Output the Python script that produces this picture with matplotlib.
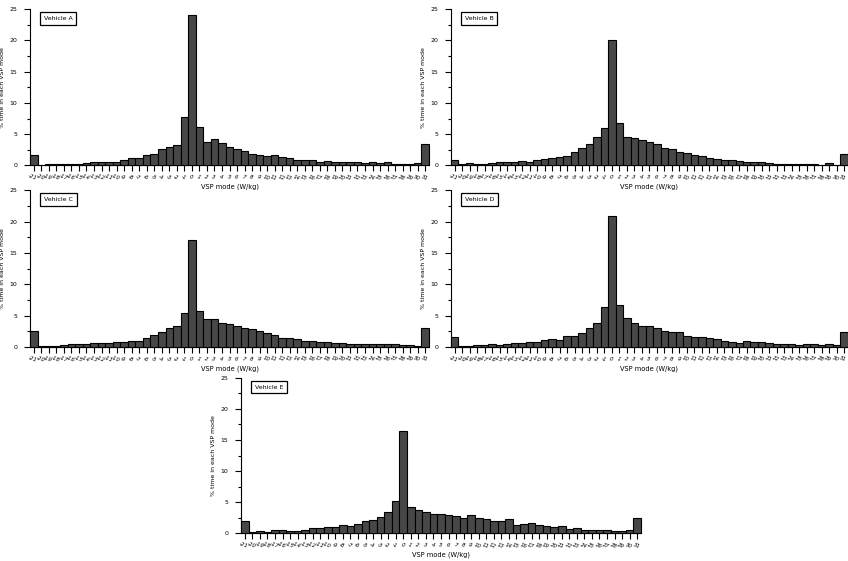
import numpy as np
import matplotlib
matplotlib.use("Agg")
import matplotlib.pyplot as plt
from matplotlib.ticker import MultipleLocator

# -----------------------------
# Data: % time in each VSP mode (-21 .. 31 W/kg)
# -----------------------------
vsp_modes = list(range(-21, 32))

vehicle_a = [1.6, 0.1, 0.2, 0.2, 0.2, 0.3, 0.3, 0.4, 0.5, 0.5, 0.6, 0.6, 0.9, 1.2, 1.2, 1.6, 1.9, 2.7, 2.9, 3.3,
             7.7, 24.0, 6.1, 3.8, 4.2, 3.6, 3.0, 2.6, 2.3, 1.9, 1.7, 1.5, 1.6, 1.4, 1.2, 0.9, 0.8, 0.9, 0.5, 0.7,
             0.6, 0.5, 0.5, 0.5, 0.4, 0.5, 0.4, 0.5, 0.3, 0.3, 0.3, 0.4, 3.4]
vehicle_b = [0.95, 0.25, 0.35, 0.25, 0.2, 0.4, 0.5, 0.6, 0.5, 0.7, 0.6, 0.8, 1.05, 1.15, 1.3, 1.5, 2.1, 2.75, 3.4, 4.5,
             6.05, 20.1, 6.85, 4.5, 4.4, 4.15, 3.8, 3.5, 2.75, 2.6, 2.2, 2.0, 1.65, 1.45, 1.15, 1.0, 0.9, 0.8, 0.7, 0.6,
             0.55, 0.5, 0.4, 0.25, 0.3, 0.3, 0.2, 0.2, 0.2, 0.15, 0.35, 0.15, 1.85]
vehicle_c = [2.5, 0.2, 0.15, 0.2, 0.35, 0.5, 0.4, 0.5, 0.6, 0.6, 0.65, 0.75, 0.85, 0.95, 1.0, 1.5, 1.9, 2.4, 3.0, 3.3,
             5.4, 17.1, 5.7, 4.5, 4.5, 3.9, 3.6, 3.4, 3.0, 2.8, 2.5, 2.2, 1.9, 1.5, 1.5, 1.35, 1.0, 1.0, 0.85, 0.85,
             0.7, 0.7, 0.55, 0.55, 0.5, 0.4, 0.4, 0.4, 0.4, 0.3, 0.3, 0.2, 3.1]
vehicle_d = [1.6, 0.2, 0.15, 0.25, 0.3, 0.4, 0.35, 0.5, 0.6, 0.65, 0.85, 0.8, 1.05, 1.2, 1.05, 1.7, 1.7, 2.25, 3.0, 3.8,
             6.3, 20.9, 6.65, 4.55, 3.9, 3.3, 3.3, 2.95, 2.6, 2.35, 2.35, 1.8, 1.65, 1.55, 1.5, 1.2, 0.95, 0.85, 0.7, 0.9,
             0.85, 0.75, 0.6, 0.55, 0.55, 0.45, 0.3, 0.5, 0.4, 0.3, 0.45, 0.35, 2.35]
vehicle_e = [1.9, 0.15, 0.35, 0.2, 0.45, 0.6, 0.3, 0.3, 0.5, 0.8, 0.8, 0.95, 0.95, 1.3, 1.2, 1.5, 2.0, 2.15, 2.6, 3.5,
             5.2, 16.5, 4.2, 3.75, 3.5, 3.15, 3.1, 2.95, 2.7, 2.5, 2.9, 2.4, 2.35, 2.05, 1.9, 2.3, 1.3, 1.5, 1.7, 1.4,
             1.1, 0.95, 1.1, 0.75, 0.8, 0.45, 0.6, 0.55, 0.5, 0.3, 0.3, 0.55, 2.5]

panels = [
    ("Vehicle A", vehicle_a, [0.0354, 0.705, 0.4705, 0.279]),
    ("Vehicle B", vehicle_b, [0.5318, 0.705, 0.468, 0.279]),
    ("Vehicle C", vehicle_c, [0.0354, 0.3815, 0.4705, 0.2795]),
    ("Vehicle D", vehicle_d, [0.5318, 0.3815, 0.468, 0.2795]),
    ("Vehicle E", vehicle_e, [0.2842, 0.0494, 0.4717, 0.2773]),
]

BAR_COLOR = "#474747"


def draw_panel(fig, name, values, rect):
    ax = fig.add_axes(rect)
    x = np.arange(len(vsp_modes))
    ax.bar(x, values, width=1.0, color=BAR_COLOR, edgecolor="black", linewidth=0.8,
           clip_on=False, zorder=3)

    ax.set_xlim(-0.5, len(vsp_modes) - 0.5)
    ax.set_ylim(0, 25)
    ax.yaxis.set_major_locator(MultipleLocator(5))
    ax.yaxis.set_minor_locator(MultipleLocator(2.5))

    ax.set_xticks(x)
    ax.set_xticklabels([str(v) for v in vsp_modes], rotation=-20, rotation_mode="anchor",
                       ha="center", va="top", fontsize=4.0, style="italic")

    for side in ["top", "right"]:
        ax.spines[side].set_visible(False)
    ax.spines["left"].set_linewidth(0.8)
    ax.spines["bottom"].set_linewidth(0.8)
    ax.tick_params(axis="y", which="major", length=4, width=0.8, labelsize=4.5, pad=5)
    ax.tick_params(axis="y", which="minor", length=2.5, width=0.8)
    ax.tick_params(axis="x", length=4, width=0.8, pad=3)

    ax.set_ylabel("% time in each VSP mode", fontsize=4.5, labelpad=3)
    ax.set_xlabel("VSP mode (W/kg)", fontsize=4.8, labelpad=1.5)

    ax.text(0.035, 0.955, name, transform=ax.transAxes, fontsize=4.5, ha="left", va="top",
            bbox=dict(boxstyle="square,pad=0.6", facecolor="white", edgecolor="black", linewidth=0.9))
    return ax


fig = plt.figure(figsize=(8.48, 5.61), dpi=100)
for name, values, rect in panels:
    draw_panel(fig, name, values, rect)

fig.savefig("out.png", dpi=100)
